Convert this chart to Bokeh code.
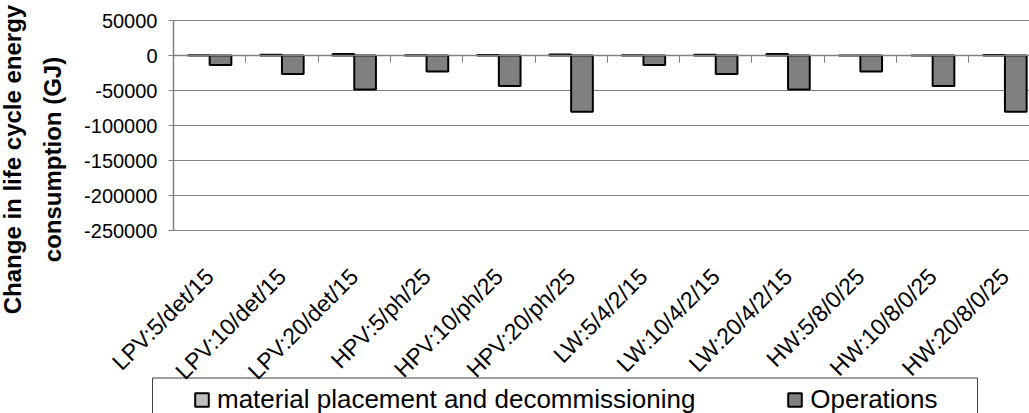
import numpy as np
from math import pi
from bokeh.plotting import figure
from bokeh.models import (Range1d, FixedTicker, LinearAxis, Legend, LegendItem,
                          Label, CustomJSTickFormatter)
from bokeh.embed import file_html
from bokeh.resources import INLINE

categories = ["LPV:5/det/15", "LPV:10/det/15", "LPV:20/det/15",
              "HPV:5/ph/25", "HPV:10/ph/25", "HPV:20/ph/25",
              "LW:5/4/2/15", "LW:10/4/2/15", "LW:20/4/2/15",
              "HW:5/8/0/25", "HW:10/8/0/25", "HW:20/8/0/25"]
material = [500, 1000, 2000, 400, 800, 1500, 500, 1000, 2000, 0, 0, 800]
operations = [-13500, -26500, -48500, -23000, -43500, -80500,
              -13500, -26500, -48500, -23000, -43500, -80500]
y_ticks = [50000, 0, -50000, -100000, -150000, -200000, -250000]
y_tick_labels = ["50000", "0", "-50000", "-100000", "-150000", "-200000", "-250000"]
series_names = ["material placement and decommissioning", "Operations"]
y_title = ["Change in life cycle energy", "consumption (GJ)"]
colors = ["#c0c0c0", "#808080"]

FONT = "Liberation Sans"
W, H = 1029, 413
# plot-area placement in canvas pixels
PX_L, PX_T, PX_B = 173, 20, 230
CAT_PX = 72.3

n = len(categories)
centers = np.arange(n) + 0.5
y_top, y_bot = y_ticks[0], y_ticks[-1]
ky = (y_top - y_bot) / (PX_B - PX_T)      # data units per pixel (y)
kx = 1.0 / CAT_PX                          # data units per pixel (x)
x_start, x_end = -PX_L * kx, (W - PX_L) * kx


def px_x(px):
    return (px - PX_L) * kx


def px_y(py):
    return y_top - (py - PX_T) * ky


p = figure(width=W, height=H, output_backend="svg", toolbar_location=None,
           x_range=Range1d(x_start, x_end),
           y_range=Range1d(px_y(H), px_y(0)),
           x_axis_type=None, y_axis_type=None, min_border=0)
p.outline_line_color = None
p.background_fill_color = "white"
p.border_fill_color = "white"
p.xgrid.visible = False
p.ygrid.visible = False

# horizontal gridlines across the plot area only
p.segment(x0=0, x1=x_end, y0=y_ticks, y1=y_ticks, line_color="#808080",
          line_width=1)

# y axis at the left edge of the plot area
yax = LinearAxis(fixed_location=0, bounds=(y_bot, y_top),
                 ticker=FixedTicker(ticks=y_ticks),
                 major_label_overrides={t: l for t, l in zip(y_ticks, y_tick_labels)},
                 axis_line_color="#808080", axis_line_width=1.5,
                 major_tick_line_color="#808080", major_tick_out=5,
                 major_tick_in=0, minor_tick_line_color=None,
                 major_label_text_font=FONT, major_label_text_font_size="20px",
                 major_label_text_color="black", major_label_standoff=11)
p.add_layout(yax, "left")

# category labels under the plot area
lab_axis = LinearAxis(fixed_location=y_bot, bounds=(0, x_end),
                      ticker=FixedTicker(ticks=list(centers)),
                      formatter=CustomJSTickFormatter(args=dict(labels=categories),
                                                      code="return labels[index]"),
                      axis_line_color=None, major_tick_line_color=None,
                      minor_tick_line_color=None,
                      major_label_orientation=pi / 4,
                      major_label_standoff=36,
                      major_label_text_font=FONT,
                      major_label_text_font_size="23px",
                      major_label_text_color="black")
p.add_layout(lab_axis, "below")

# category axis line at zero with tick marks
zero_axis = LinearAxis(fixed_location=0, bounds=(0, x_end),
                       ticker=FixedTicker(ticks=list(range(n + 1))),
                       formatter=CustomJSTickFormatter(code="return ''"),
                       axis_line_color="#808080", axis_line_width=1.5,
                       major_tick_line_color="#808080", major_tick_out=7,
                       major_tick_in=0, minor_tick_line_color=None)
p.add_layout(zero_axis, "below")

r1 = p.vbar(x=centers - 0.15, width=0.3, top=material, bottom=0,
            fill_color=colors[0], line_color="black", line_width=2)
r2 = p.vbar(x=centers + 0.15, width=0.3, top=0, bottom=operations,
            fill_color=colors[1], line_color="black", line_width=2)

# legend frame and legend
p.quad(left=px_x(152), right=px_x(977), top=px_y(377.5), bottom=px_y(440),
       fill_color=None, line_color="#404040", line_width=1)
legend = Legend(items=[LegendItem(label=s, renderers=[r])
                       for s, r in zip(series_names, [r1, r2])],
                orientation="horizontal", location=(193, -2),
                glyph_width=17, glyph_height=17, label_standoff=7,
                spacing=91, padding=0, margin=0,
                label_text_font=FONT, label_text_font_size="26px",
                label_text_color="black",
                border_line_color=None, background_fill_alpha=0)
p.add_layout(legend, "center")

# two-line y axis title
for txt, cx in zip(y_title, [12, 52]):
    p.add_layout(Label(x=px_x(cx), y=px_y(159), text=txt, angle=pi / 2,
                       text_align="center", text_baseline="middle",
                       text_font=FONT, text_font_size="24px",
                       text_font_style="bold", text_color="black"))

open("out.html", "w").write(file_html(p, INLINE))
